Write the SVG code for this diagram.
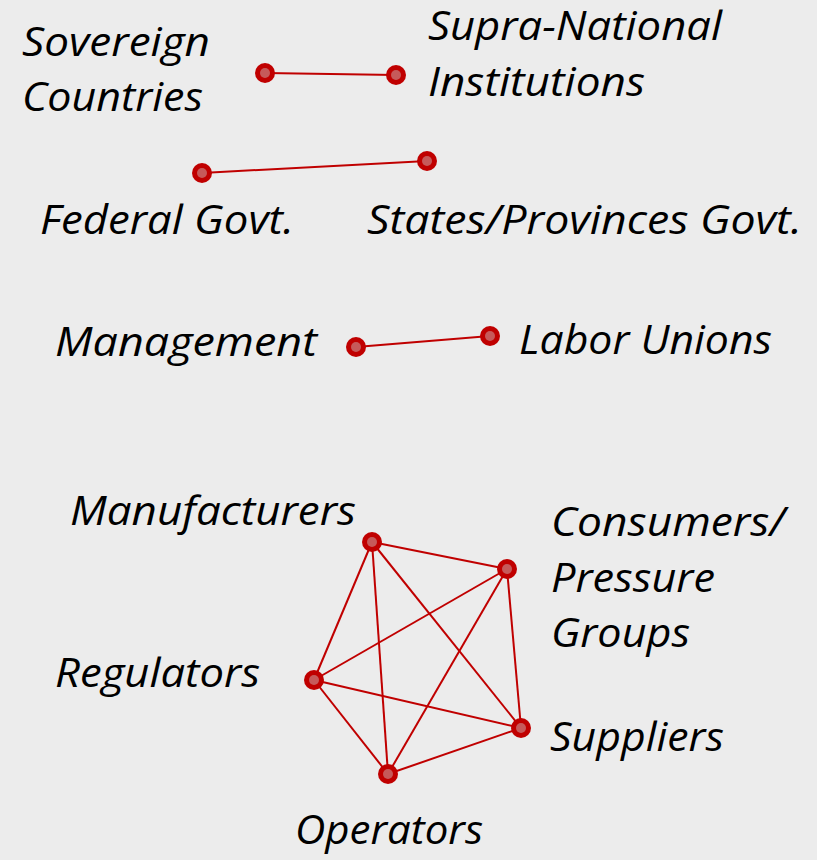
<svg xmlns="http://www.w3.org/2000/svg" width="817" height="860" viewBox="0 0 817 860">
  <style>
    .lbl { font-family: "Open Sans", "Noto Sans", sans-serif; font-style: italic; font-size: 41px; fill: #000; }
    .edge { stroke: #c00000; stroke-width: 2; fill: none; }
    .dot { fill: #c00000; }
    .core { fill: #c65a5a; }
  </style>
  <defs>
    <g id="node">
      <circle class="dot" r="10"/>
      <circle class="core" r="5"/>
    </g>
  </defs>
  <rect width="817" height="860" fill="#ececec"/>

  <g id="connectors">
    <line class="edge" x1="265" y1="73" x2="396" y2="75"/>
    <line class="edge" x1="202" y1="173" x2="427" y2="161"/>
    <line class="edge" x1="356" y1="347" x2="490" y2="336"/>
    <!-- complete graph among the five stakeholder groups -->
    <line class="edge" x1="372" y1="542" x2="507" y2="569"/>
    <line class="edge" x1="372" y1="542" x2="314" y2="680"/>
    <line class="edge" x1="372" y1="542" x2="521" y2="728"/>
    <line class="edge" x1="372" y1="542" x2="388" y2="774"/>
    <line class="edge" x1="507" y1="569" x2="314" y2="680"/>
    <line class="edge" x1="507" y1="569" x2="521" y2="728"/>
    <line class="edge" x1="507" y1="569" x2="388" y2="774"/>
    <line class="edge" x1="314" y1="680" x2="521" y2="728"/>
    <line class="edge" x1="314" y1="680" x2="388" y2="774"/>
    <line class="edge" x1="521" y1="728" x2="388" y2="774"/>
  </g>

  <g id="sovereign">
    <use href="#node" x="265" y="73"/>
    <text class="lbl" x="22" y="56" textLength="188" lengthAdjust="spacingAndGlyphs">Sovereign</text>
    <text class="lbl" x="22" y="111" textLength="181" lengthAdjust="spacingAndGlyphs">Countries</text>
  </g>
  <g id="supranational">
    <use href="#node" x="396" y="75"/>
    <text class="lbl" x="428" y="40" textLength="294" lengthAdjust="spacingAndGlyphs">Supra-National</text>
    <text class="lbl" x="428" y="96" textLength="217" lengthAdjust="spacingAndGlyphs">Institutions</text>
  </g>
  <g id="federal">
    <use href="#node" x="202" y="173"/>
    <text class="lbl" x="40" y="234" textLength="254" lengthAdjust="spacingAndGlyphs">Federal Govt.</text>
  </g>
  <g id="states">
    <use href="#node" x="427" y="161"/>
    <text class="lbl" x="367" y="234" textLength="435" lengthAdjust="spacingAndGlyphs">States/Provinces Govt.</text>
  </g>
  <g id="management">
    <use href="#node" x="356" y="347"/>
    <text class="lbl" x="55" y="356" textLength="262" lengthAdjust="spacingAndGlyphs">Management</text>
  </g>
  <g id="unions">
    <use href="#node" x="490" y="336"/>
    <text class="lbl" x="519" y="354" textLength="253" lengthAdjust="spacingAndGlyphs">Labor Unions</text>
  </g>
  <g id="manufacturers">
    <use href="#node" x="372" y="542"/>
    <text class="lbl" x="70" y="525" textLength="286" lengthAdjust="spacingAndGlyphs">Manufacturers</text>
  </g>
  <g id="consumers">
    <use href="#node" x="507" y="569"/>
    <text class="lbl" x="551" y="536" textLength="234" lengthAdjust="spacingAndGlyphs">Consumers/</text>
    <text class="lbl" x="551" y="592" textLength="164" lengthAdjust="spacingAndGlyphs">Pressure</text>
    <text class="lbl" x="551" y="647" textLength="139" lengthAdjust="spacingAndGlyphs">Groups</text>
  </g>
  <g id="regulators">
    <use href="#node" x="314" y="680"/>
    <text class="lbl" x="55" y="687" textLength="205" lengthAdjust="spacingAndGlyphs">Regulators</text>
  </g>
  <g id="suppliers">
    <use href="#node" x="521" y="728"/>
    <text class="lbl" x="550" y="751" textLength="174" lengthAdjust="spacingAndGlyphs">Suppliers</text>
  </g>
  <g id="operators">
    <use href="#node" x="388" y="774"/>
    <text class="lbl" x="295" y="844" textLength="188" lengthAdjust="spacingAndGlyphs">Operators</text>
  </g>
</svg>
